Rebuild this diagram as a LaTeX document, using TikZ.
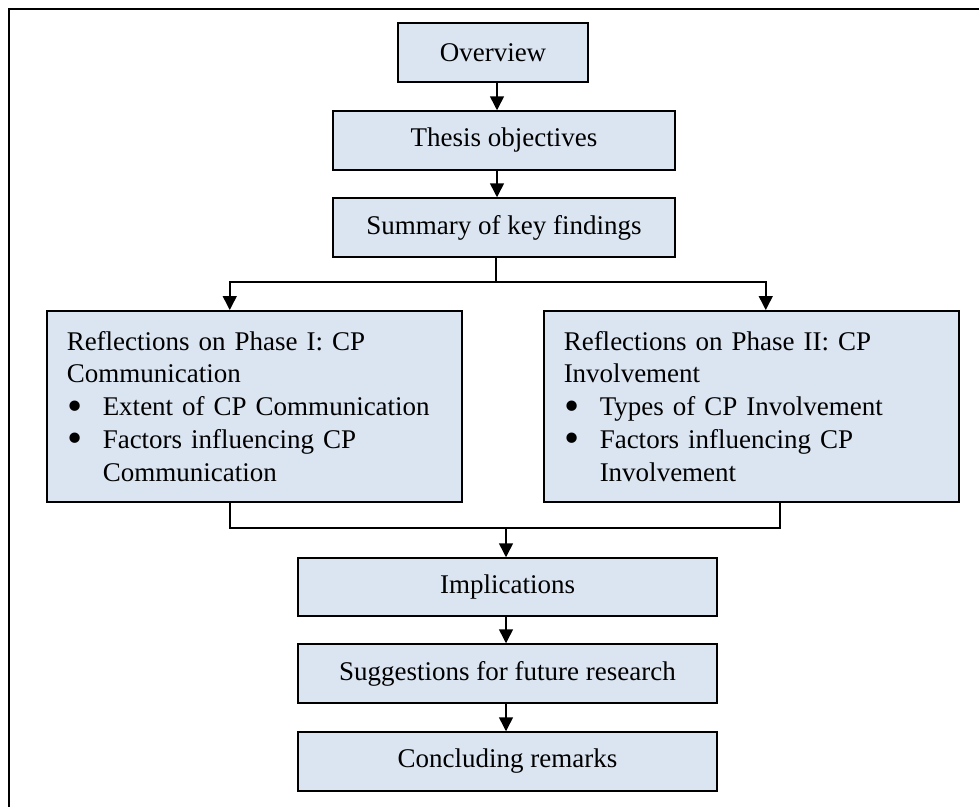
\documentclass[tikz,border=0pt]{standalone}
\usepackage{fontspec}
\setmainfont{Liberation Serif}
\usetikzlibrary{arrows.meta}
\definecolor{boxfill}{RGB}{219,229,241}
\begin{document}
\begin{tikzpicture}[x=1pt,y=-1pt,
  box/.style={draw=black,line width=1.5pt,fill=boxfill,inner sep=0pt,
    font=\fontsize{27}{32.8}\selectfont},
  mainbox/.style={box,minimum height=59pt},
  phasebox/.style={box,anchor=north west,minimum width=415pt,minimum height=191pt,
    text width=375pt,align=left},
  conn/.style={line width=1.5pt},
  arr/.style={conn,-{Triangle[width=14pt,length=14pt]}}]
\useasboundingbox (0,0) rectangle (979,806);
\clip (0,0) rectangle (979,806);

% outer frame
\draw[line width=1.5pt] (9,830) -- (9,9) -- (1010,9);

% main column
\node[mainbox,minimum width=190pt] (ov) at (493,52.5) {Overview};
\node[mainbox,minimum width=342pt] (th) at (504,140.5) {Thesis objectives};
\node[mainbox,minimum width=342pt] (sm) at (504,227.5) {Summary of key findings};

% the two phases
\newcommand{\bul}{\makebox[36pt][l]{\hspace{1pt}\raisebox{-4.5pt}{\scalebox{1.6}{\textbullet}}}}
\newcommand{\ind}{\hspace*{36pt}}
\node[phasebox] (p1) at (46,310) {Reflections on Phase I: CP\\
  Communication\\
  \bul Extent of CP Communication\\
  \bul Factors influencing CP\\
  \ind Communication\par\vspace{6pt}};
\node[phasebox] (p2) at (543,310) {Reflections on Phase II: CP\\
  Involvement\\
  \bul Types of CP Involvement\\
  \bul Factors influencing CP\\
  \ind Involvement\par\vspace{6pt}};

% lower column
\node[mainbox,minimum width=419pt,minimum height=58pt] (im) at (507.5,587) {Implications};
\node[mainbox,minimum width=419pt] (sg) at (507.5,673.5) {Suggestions for future research};
\node[mainbox,minimum width=419pt] (cr) at (507.5,761.5) {Concluding remarks};

% connectors
\coordinate (split) at (496,282);
\coordinate (merge) at (506,528);
\draw[arr] ([xshift=4pt]ov.south) -- ([xshift=4pt]ov.south |- th.north);
\draw[arr] ([xshift=-7pt]th.south) -- ([xshift=-7pt]th.south |- sm.north);
\draw[conn] ([xshift=-8pt]sm.south) -- (split);
\draw[arr] (split) -| ([xshift=-24.5pt]p1.north);
\draw[arr] (split) -| ([xshift=14.5pt]p2.north);
\draw[conn] ([xshift=-24.5pt]p1.south) |- (merge);
\draw[conn] ([xshift=28.5pt]p2.south) |- (merge);
\draw[arr] (merge) -- (merge |- im.north);
\draw[arr] ([xshift=-1.5pt]im.south) -- ([xshift=-1.5pt]im.south |- sg.north);
\draw[arr] ([xshift=-1.5pt]sg.south) -- ([xshift=-1.5pt]sg.south |- cr.north);
\end{tikzpicture}
\end{document}
